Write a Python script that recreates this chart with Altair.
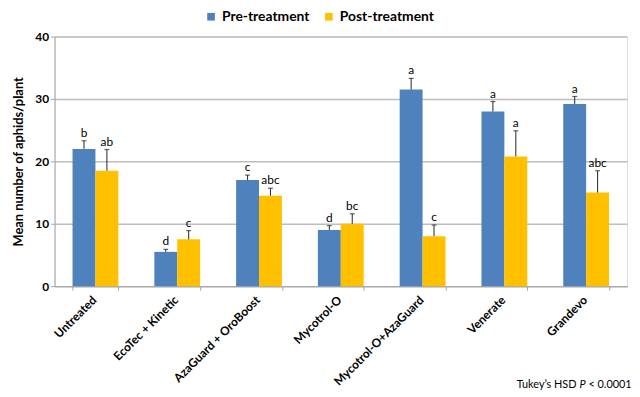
import altair as alt
import pandas as pd

categories = ["Untreated", "EcoTec + Kinetic", "AzaGuard + OroBoost", "Mycotrol-O",
              "Mycotrol-O+AzaGuard", "Venerate", "Grandevo"]
series = ["Pre-treatment", "Post-treatment"]
pre_values = [22.0, 5.5, 17.0, 9.0, 31.5, 28.0, 29.2]
pre_errors = [1.3, 0.4, 0.8, 0.7, 1.8, 1.6, 1.2]
pre_letters = ["b", "d", "c", "d", "a", "a", "a"]
post_values = [18.5, 7.5, 14.5, 10.0, 8.0, 20.8, 15.0]
post_errors = [3.4, 1.4, 1.2, 1.6, 1.8, 4.1, 3.5]
post_letters = ["ab", "c", "abc", "bc", "c", "a", "abc"]

rows = []
for i, c in enumerate(categories):
    rows.append(dict(cat=c, series=series[0], value=pre_values[i], top=pre_values[i] + pre_errors[i], letter=pre_letters[i]))
    rows.append(dict(cat=c, series=series[1], value=post_values[i], top=post_values[i] + post_errors[i], letter=post_letters[i]))
df = pd.DataFrame(rows)

FONT = "Lato"
xenc = alt.X("cat:N", sort=categories, title=None,
             scale=alt.Scale(paddingInner=0.44, paddingOuter=0.22),
             axis=alt.Axis(labelAngle=-45, labelAlign="right", labelBaseline="top",
                           labelFontWeight="bold", labelFontSize=12, labelFont=FONT,
                           labelColor="black", tickBand="extent", tickColor="#a6a6a6",
                           domainColor="#a6a6a6", tickSize=4, labelPadding=4,
                           labelOffset=-5))
xoff = alt.XOffset("series:N", sort=series)
yscale = alt.Scale(domain=[0, 40])

base = alt.Chart(df).encode(x=xenc, xOffset=xoff)

bars = base.mark_bar().encode(
    y=alt.Y("value:Q", scale=yscale, title="Mean number of aphids/plant",
            axis=alt.Axis(values=[0, 10, 20, 30, 40], labelFontWeight="bold", labelFontSize=12,
                          labelFont=FONT, labelColor="black", titleFont=FONT, titleFontSize=13,
                          titleFontWeight="bold", titleColor="black", gridColor="#bdbdbd",
                          gridWidth=1.5, domainColor="#a6a6a6", tickColor="#a6a6a6",
                          tickSize=4, titlePadding=9)),
    color=alt.Color("series:N", sort=series,
                    scale=alt.Scale(domain=series, range=["#4F81BD", "#FFC000"]),
                    legend=alt.Legend(title=None, orient="none", direction="horizontal",
                                      legendX=151, legendY=-27, symbolType="square",
                                      symbolSize=60, labelFont=FONT, labelFontSize=14,
                                      labelFontWeight="bold", labelColor="black",
                                      columnPadding=12, symbolStrokeWidth=0)),
)

rules = base.mark_rule(color="#222222", strokeWidth=1).encode(y=alt.Y("value:Q", scale=yscale), y2="top:Q")
caps = base.mark_tick(color="#222222", size=5, thickness=1.2).encode(y=alt.Y("top:Q", scale=yscale))
labels = base.mark_text(dy=-8, font=FONT, fontSize=12, color="black").encode(
    y=alt.Y("top:Q", scale=yscale), text="letter:N")

note_y = 352
note1 = alt.Chart(pd.DataFrame({"t": ["Tukey\u2019s HSD"]})).mark_text(
    align="right", font=FONT, fontSize=11, color="black").encode(
    x=alt.value(527), y=alt.value(note_y), text="t:N")
note2 = alt.Chart(pd.DataFrame({"t": ["P"]})).mark_text(
    align="left", font=FONT, fontSize=11, fontStyle="italic", color="black").encode(
    x=alt.value(530), y=alt.value(note_y), text="t:N")
note3 = alt.Chart(pd.DataFrame({"t": ["< 0.0001"]})).mark_text(
    align="left", font=FONT, fontSize=11, color="black").encode(
    x=alt.value(539), y=alt.value(note_y), text="t:N")

chart = alt.layer(bars, rules, caps, labels, note1, note2, note3).properties(
    width=578, height=252,
    padding={"left": 5, "top": 0, "right": 0, "bottom": 0}
).configure_view(stroke=None).configure(font=FONT)

chart.save("out.html", embed_options={"renderer": "svg", "actions": False})
